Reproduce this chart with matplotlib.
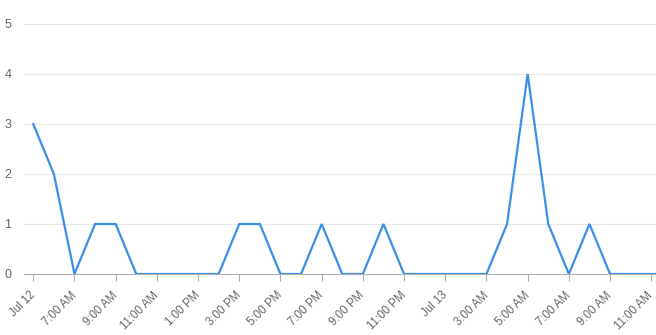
import matplotlib
matplotlib.use("Agg")
import matplotlib.pyplot as plt
import matplotlib.dates as mdates
from datetime import datetime, timedelta

# Data: hourly counts starting Jul 12, 5:00 AM
start = datetime(2023, 7, 12, 5, 0)
values = [3, 2, 0, 1, 1, 0, 0, 0, 0, 0, 1, 1, 0, 0, 1, 0, 0, 1, 0, 0,
          0, 0, 0, 1, 4, 1, 0, 1, 0, 0, 0, 0]
times = [start + timedelta(hours=i) for i in range(len(values))]

tick_times = [datetime(2023, 7, 12, 5), datetime(2023, 7, 12, 7), datetime(2023, 7, 12, 9),
              datetime(2023, 7, 12, 11), datetime(2023, 7, 12, 13), datetime(2023, 7, 12, 15),
              datetime(2023, 7, 12, 17), datetime(2023, 7, 12, 19), datetime(2023, 7, 12, 21),
              datetime(2023, 7, 12, 23), datetime(2023, 7, 13, 1), datetime(2023, 7, 13, 3),
              datetime(2023, 7, 13, 5), datetime(2023, 7, 13, 7), datetime(2023, 7, 13, 9),
              datetime(2023, 7, 13, 11)]
tick_labels = ["Jul 12", "7:00 AM", "9:00 AM", "11:00 AM", "1:00 PM", "3:00 PM", "5:00 PM",
               "7:00 PM", "9:00 PM", "11:00 PM", "Jul 13", "3:00 AM", "5:00 AM", "7:00 AM",
               "9:00 AM", "11:00 AM"]
y_ticks = [0, 1, 2, 3, 4, 5]

plt.rcParams['font.family'] = ['Liberation Sans', 'DejaVu Sans']

fig = plt.figure(figsize=(6.56, 3.35), dpi=100)
ax = fig.add_axes([24/656, 1 - 274/335, 632/656, 250/335])

ax.plot(times, values, color="#3a8fe8", linewidth=1.6, solid_joinstyle='miter', clip_on=True)

ax.set_xlim(start - timedelta(hours=0.45), start + timedelta(hours=30.23))
ax.set_ylim(0, 5)

ax.set_xticks([mdates.date2num(t) for t in tick_times])
ax.set_xticklabels(tick_labels, rotation=45, ha='right', va='center', rotation_mode='anchor',
                   fontsize=8.3, color="#666666")
ax.set_yticks(y_ticks)
ax.set_yticklabels([str(v) for v in y_ticks], fontsize=9, color="#666666")

ax.tick_params(axis='y', length=0, pad=9)
ax.tick_params(axis='x', length=5, width=0.8, color="#b0b0b0", pad=9)

ax.grid(axis='y', color="#e8e8e8", linewidth=0.8)
ax.set_axisbelow(True)
for s in ['top', 'right', 'left']:
    ax.spines[s].set_visible(False)
ax.spines['bottom'].set_color("#b0b0b0")
ax.spines['bottom'].set_linewidth(0.8)

fig.savefig("out.png", dpi=100)
